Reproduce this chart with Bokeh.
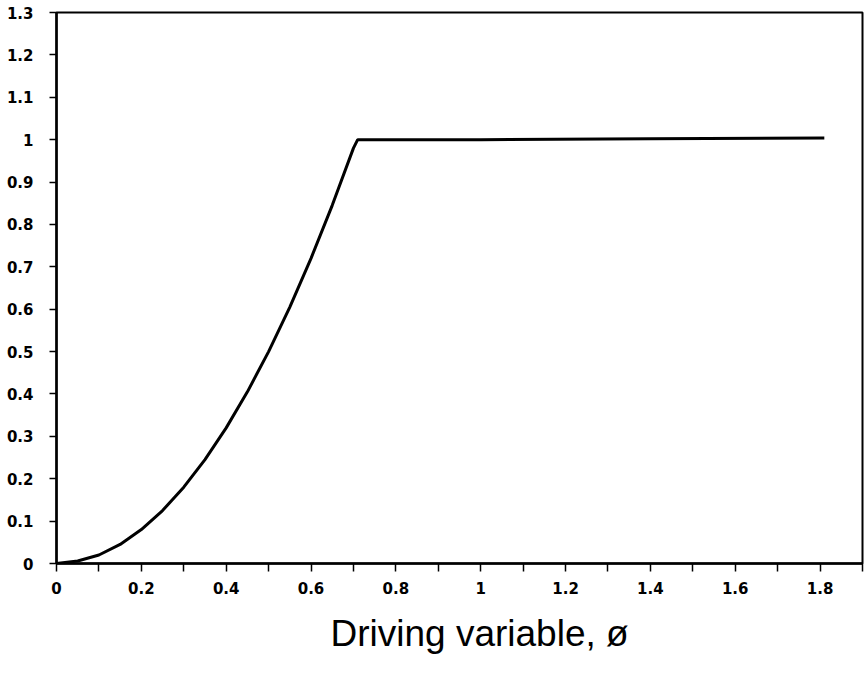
from bokeh.plotting import figure
from bokeh.models import Range1d, FixedTicker, Title
from bokeh.embed import file_html
from bokeh.resources import INLINE

# data
phi = [0.0, 0.05, 0.1, 0.15, 0.2, 0.25, 0.3, 0.35, 0.4, 0.45, 0.5, 0.55, 0.6, 0.65, 0.7, 0.71, 1.0, 1.4, 1.81]
resp = [0.0, 0.006, 0.02, 0.045, 0.08, 0.125, 0.18, 0.245, 0.32, 0.405, 0.5, 0.605, 0.72, 0.845, 0.98, 1.0, 1.0, 1.002, 1.004]

x_ticks = [0, 0.2, 0.4, 0.6, 0.8, 1.0, 1.2, 1.4, 1.6, 1.8]
x_tick_labels = ["0", "0.2", "0.4", "0.6", "0.8", "1", "1.2", "1.4", "1.6", "1.8"]
x_minor = [0.1, 0.3, 0.5, 0.7, 0.9, 1.1, 1.3, 1.5, 1.7, 1.9]
y_ticks = [0, 0.1, 0.2, 0.3, 0.4, 0.5, 0.6, 0.7, 0.8, 0.9, 1.0, 1.1, 1.2, 1.3]
y_tick_labels = ["0", "0.1", "0.2", "0.3", "0.4", "0.5", "0.6", "0.7", "0.8", "0.9", "1", "1.1", "1.2", "1.3"]
x_title = "Driving variable, ø"

p = figure(width=864, height=673, output_backend="svg", toolbar_location=None,
           x_range=Range1d(0, 1.9), y_range=Range1d(0, 1.3),
           min_border_left=56, min_border_right=2, min_border_top=12, min_border_bottom=110)
p.xgrid.visible = False
p.ygrid.visible = False
p.outline_line_color = "black"
p.outline_line_width = 2
p.background_fill_color = "white"
p.border_fill_color = "white"

p.line(phi, resp, line_color="black", line_width=3)

xa = p.xaxis[0]
xa.ticker = FixedTicker(ticks=x_ticks, minor_ticks=x_minor)
xa.major_label_overrides = {t: l for t, l in zip(x_ticks, x_tick_labels)}
ya = p.yaxis[0]
ya.ticker = FixedTicker(ticks=y_ticks)
ya.major_label_overrides = {t: l for t, l in zip(y_ticks, y_tick_labels)}

for ax in (xa, ya):
    ax.axis_line_color = "black"
    ax.axis_line_width = 2.5
    ax.major_tick_line_color = "black"
    ax.minor_tick_line_color = "black"
    ax.major_tick_line_width = 1.5
    ax.minor_tick_line_width = 1.5
    ax.major_tick_in = 0
    ax.major_tick_out = 8
    ax.minor_tick_in = 0
    ax.minor_tick_out = 8
    ax.major_label_text_font = "DejaVu Sans"
    ax.major_label_text_font_style = "bold"
    ax.major_label_text_font_size = "15px"
    ax.major_label_text_color = "black"
ya.major_tick_out = 7
ya.major_label_standoff = 16
xa.major_label_standoff = 10

p.add_layout(Title(text=x_title, align="left", offset=274, standoff=33,
                   vertical_align="top",
                   text_font="Liberation Sans", text_font_style="normal",
                   text_font_size="37px", text_color="black"), "below")

open("out.html", "w").write(file_html(p, INLINE))
